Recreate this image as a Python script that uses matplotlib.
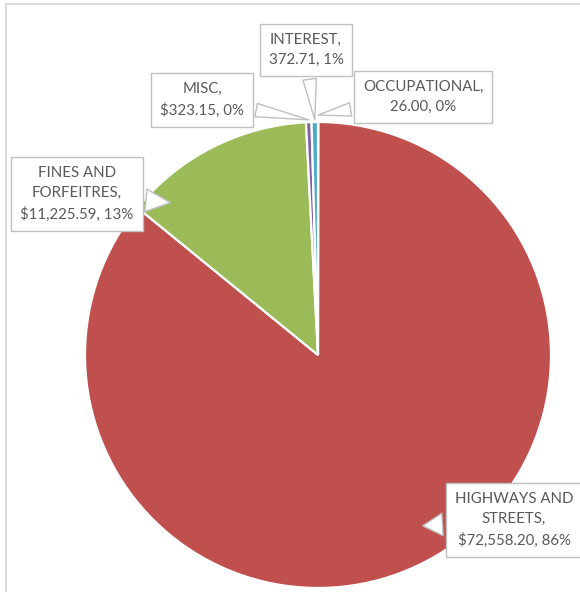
import numpy as np
import matplotlib
matplotlib.use('Agg')
import matplotlib.pyplot as plt
from matplotlib.patches import Rectangle

# data (clockwise from 12 o'clock, Excel order)
categories = ['OCCUPATIONAL', 'HIGHWAYS AND STREETS', 'FINES AND FORFEITRES', 'MISC', 'INTEREST']
values = [26.00, 72558.20, 11225.59, 323.15, 372.71]
labels = ['OCCUPATIONAL,\n26.00, 0%',
          'HIGHWAYS AND\nSTREETS,\n$72,558.20, 86%',
          'FINES AND\nFORFEITRES,\n$11,225.59, 13%',
          'MISC,\n$323.15, 0%',
          'INTEREST,\n372.71, 1%']
colors = ['#4F81BD', '#C0504D', '#9BBB59', '#8064A2', '#4BACC6']

W, H = 580, 592
fig = plt.figure(figsize=(W / 100, H / 100), dpi=100)
ax = fig.add_axes([0, 0, 1, 1])

cx, cy, R = 318, H - 355, 233
wedges, _ = ax.pie(values, colors=colors, startangle=90, counterclock=False,
                   center=(cx, cy), radius=R, frame=True,
                   wedgeprops=dict(edgecolor='white', linewidth=1.6))
ax.set_xlim(0, W)
ax.set_ylim(0, H)
ax.set_aspect('equal')
ax.axis('off')

# chart border (cropped)
ax.add_patch(Rectangle((5.5, -30), 700, H - 4 + 30, fill=False,
                       ec='#D9D9D9', lw=1.5))

# label box centres (pixels from top-left), anchor radius and position along slice
box_pos = [(423, 97), (514, 520), (77, 194), (202, 100), (306, 50)]
anchor_r = [1.03, 0.86, 0.91, 1.01, 1.01]
anchor_f = [0.5, 0.48, 0.14, 0.5, 0.5]
tails = [0.9, 1.5, 1.5, 0.9, 0.9]

for w, lab, (bx, by), rf, f, tw in zip(wedges, labels, box_pos, anchor_r, anchor_f, tails):
    ang = np.deg2rad(w.theta2 - f * (w.theta2 - w.theta1))
    px = cx + rf * R * np.cos(ang)
    py = cy + rf * R * np.sin(ang)
    ax.annotate(lab, xy=(px, py), xytext=(bx, H - by),
                ha='center', va='center', multialignment='center',
                fontsize=10.8, family='Lato', color='#595959', linespacing=1.55,
                bbox=dict(boxstyle='square,pad=0.6', fc='white', ec='#BFBFBF', lw=1),
                arrowprops=dict(arrowstyle='wedge,tail_width=%s,shrink_factor=0.5' % tw,
                                fc='white', ec='#BFBFBF', lw=1, shrinkB=0),
                zorder=5)

fig.savefig('out.png', dpi=100)
